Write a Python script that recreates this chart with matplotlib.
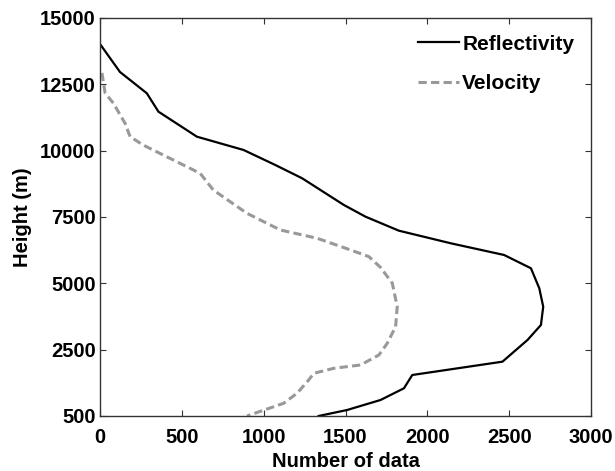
import matplotlib
matplotlib.use("Agg")
import matplotlib.pyplot as plt

plt.rcParams['font.family'] = ['Liberation Sans', 'DejaVu Sans']
plt.rcParams['font.weight'] = 'bold'

# Reflectivity profile (number of data, height in axis units)
refl_n = [0, 122, 286, 357, 592, 877, 1071, 1235, 1490, 1622, 1826, 2143, 2469,
          2633, 2684, 2708, 2694, 2612, 2459, 1908, 1857, 1714, 1510, 1336]
refl_h = [14020, 12965, 12163, 11470, 10527, 10026, 9460, 8959, 7953, 7512, 6984,
          6509, 6068, 5567, 4813, 4120, 3430, 2865, 2047, 1545, 1044, 603, 226, 0]

# Velocity profile
vel_n = [12, 31, 82, 153, 184, 263, 386, 612, 692, 898, 1102, 1327, 1531, 1643,
         1714, 1786, 1816, 1806, 1755, 1704, 1592, 1429, 1306, 1275, 1204, 1122, 898]
vel_h = [12930, 12175, 11786, 11032, 10527, 10214, 9837, 9146, 8518, 7638, 7010,
         6697, 6257, 6004, 5600, 5002, 4120, 3366, 2740, 2299, 1922, 1798, 1609,
         1357, 856, 479, 0]

xticks = [0, 500, 1000, 1500, 2000, 2500, 3000]
yticks = [0, 2500, 5000, 7500, 10000, 12500, 15000]
ytick_labels = ['500', '2500', '5000', '7500', '10000', '12500', '15000']

fig = plt.figure(figsize=(6.15, 4.71), dpi=100)
ax = fig.add_axes([0.1626, 0.1168, 0.7984, 0.845])

ax.plot(refl_n, refl_h, color='black', lw=1.6, label='Reflectivity')
ax.plot(vel_n, vel_h, color='#999999', lw=2.2, ls=(0, (2.7, 1.4)), label='Velocity')

ax.set_xlim(0, 3000)
ax.set_ylim(0, 15000)
ax.set_xticks(xticks)
ax.set_xticklabels([str(v) for v in xticks])
ax.set_yticks(yticks)
ax.set_yticklabels(ytick_labels)
ax.tick_params(direction='in', length=4.5, width=0.8, top=True, right=True,
               labelsize=14.5, color='#333333')
ax.tick_params(axis='x', pad=9)
ax.tick_params(axis='y', pad=3)
for lab in ax.get_xticklabels() + ax.get_yticklabels():
    lab.set_fontweight('bold')
for s in ax.spines.values():
    s.set_linewidth(1.0)
    s.set_color('#333333')

ax.set_xlabel('Number of data', fontsize=14.5, fontweight='bold', labelpad=3)
ax.set_ylabel('Height (m)', fontsize=14.5, fontweight='bold', labelpad=6)

leg = ax.legend(loc='upper right', frameon=False, fontsize=15, handlelength=2.0,
                handletextpad=0.15, labelspacing=1.0, borderaxespad=0.4)
for t in leg.get_texts():
    t.set_fontweight('bold')

fig.savefig('out.png', dpi=100)
